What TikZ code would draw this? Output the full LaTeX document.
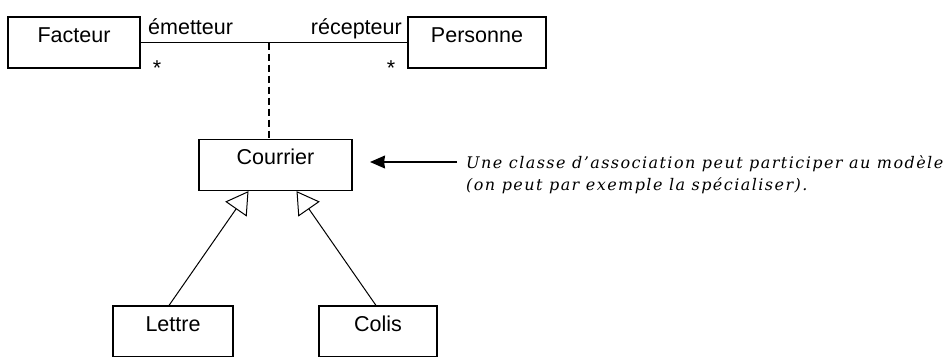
\documentclass[tikz,border=0pt]{standalone}
\usepackage{fontspec}
\setmainfont{Liberation Sans}
\newfontfamily\notefont{DejaVu Serif}[LetterSpace=9]
\usetikzlibrary{arrows.meta, positioning}

\begin{document}
\begin{tikzpicture}[x=1pt,y=-1pt,>=Stealth,
    every node/.style={font=\fontsize{21.5}{24}\selectfont},
    classe/.style={draw, line width=1.1pt, inner xsep=0pt, inner ysep=0pt,
      text height=25pt, text depth=26pt},
    herite/.style={-{Triangle[open,length=22pt,width=26pt]}, line width=1pt},
    role/.style={inner sep=0pt}]
  \useasboundingbox (0,0) rectangle (952,356);
  \clip (0,0) rectangle (952,356);
  \node[classe, minimum width=132pt] (facteur) at (74,42.5) {Facteur};
  \node[classe, minimum width=138pt] (personne) at (477,42.5) {Personne};
  \draw[line width=1.1pt] (facteur.east) -- (personne.west);
  \node[role, anchor=base west] (emetteur) at (148,34) {émetteur};
  \node[role, anchor=base east] (recepteur) at (402,34) {récepteur};
  \node[role, anchor=base] (mult1) at (157,75) {*};
  \node[role, anchor=base] (mult2) at (391,75) {*};
  \coordinate (milieu) at (269,42.5);
  \node[classe, minimum width=153pt] (courrier) at (275.5,165) {Courrier};
  \draw[line width=1.1pt, dashed, dash pattern=on 7pt off 4pt]
    (milieu) -- (milieu |- courrier.north);
  \node[classe, minimum width=120pt] (lettre) at (173,331.5) {Lettre};
  \node[classe, minimum width=118pt] (colis) at (378,331.5) {Colis};
  \draw[herite] (lettre.north) ++(-4,0) coordinate (l1) (l1)
    -- ([xshift=-27pt]courrier.south);
  \draw[herite] (colis.north) ++(-2,0) coordinate (c1) (c1)
    -- ([xshift=21pt]courrier.south);
  \coordinate[right=17.5pt of courrier] (pointe);
  \node[anchor=base west, align=left, inner sep=0pt,
    font=\notefont\itshape\fontsize{16}{22}\selectfont] (note) at (466,190)
    {Une classe d’association peut participer au modèle\\
     (on peut par exemple la spécialiser).};
  \coordinate (depart) at (457,162);
  \draw[line width=1.1pt, -{Stealth[length=15pt,width=13pt,inset=1pt]}]
    (depart) -- (pointe |- depart);
\end{tikzpicture}
\end{document}
